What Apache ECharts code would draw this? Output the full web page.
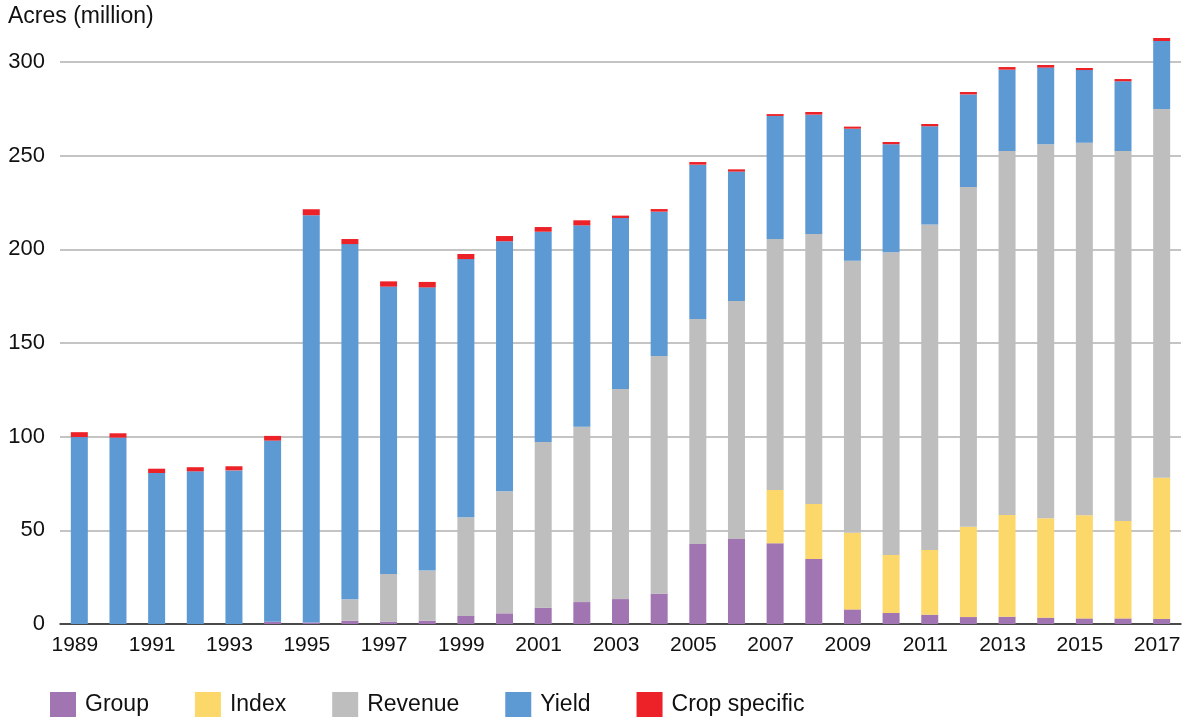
<!DOCTYPE html>
<html><head><meta charset="utf-8">
<script src="https://cdn.jsdelivr.net/npm/echarts@6/dist/echarts.min.js"></script>
<style>html,body{margin:0;padding:0;background:#fff}#c{width:1187px;height:721px}</style>
</head><body><div id="c"></div>
<script>
var years = ['1989','1990','1991','1992','1993','1994','1995','1996','1997','1998','1999','2000','2001','2002','2003','2004','2005','2006','2007','2008','2009','2010','2011','2012','2013','2014','2015','2016','2017'];
var group = [0,0,0,0,0,1.2,0.8,1.8,1.1,1.8,4.3,5.7,8.7,11.7,13.3,16.2,42.7,45.4,43.1,34.7,7.8,5.9,5.0,3.7,3.9,3.4,3.0,3.0,2.7];
var indexIns = [0,0,0,0,0,0,0,0,0,0,0,0,0,0,0,0,0,0,28.4,29.4,40.9,30.9,34.5,48.2,54.3,53.0,55.0,52.0,75.4];
var revenue = [0,0,0,0,0,0,0,11.4,25.6,26.7,52.7,65.1,88.5,93.6,112.1,126.9,120.1,127.0,134.0,144.1,145.2,161.6,173.7,181.4,194.3,199.7,198.9,197.5,196.8];
var yieldIns = [99.8,99.5,80.6,81.5,82.0,96.7,217.4,189.6,153.4,151.2,137.8,133.5,112.2,107.5,91.3,77.0,82.4,69.1,65.7,63.7,70.5,57.7,52.5,49.4,43.4,40.9,38.8,37.2,36.3];
var cropSpecific = [2.6,2.3,2.3,2.2,2.2,2.5,3.2,2.7,2.8,2.9,2.7,2.8,2.5,2.7,1.3,1.4,1.4,1.2,1.0,1.4,1.1,1.2,1.2,1.3,1.4,1.4,1.1,1.2,1.6];
var yTicks = [0,50,100,150,200,250,300];

var font = '"Liberation Sans", Arial, Helvetica, sans-serif';
var chart = echarts.init(document.getElementById('c'));
function s(name, data, color){
  return {name:name, type:'bar', stack:'total', data:data, barWidth:17, clip:false,
    itemStyle:{color:color}, emphasis:{disabled:true}};
}
chart.setOption({
  animation:false,
  textStyle:{fontFamily:font},
  grid:{left:60, right:6, top:62, bottom:97},
  graphic:[{type:'text', left:8, top:5, style:{text:'Acres (million)', font:'23px '+font, fill:'#111'}}],
  legend:{left:50, top:692, padding:0, itemWidth:26, itemHeight:25, itemGap:46, icon:'rect',
    textStyle:{fontSize:23, color:'#111', fontFamily:font, padding:[0,0,0,4]},
    data:['Group','Index','Revenue','Yield','Crop specific']},
  xAxis:{type:'category', data:years,
    axisLine:{lineStyle:{color:'#222', width:1.5}}, axisTick:{show:false},
    axisLabel:{interval:1, fontSize:21, color:'#111', margin:11, fontFamily:font, padding:[0,9,0,0]}},
  yAxis:{type:'value', min:yTicks[0], max:yTicks[yTicks.length-1], interval:50,
    axisLine:{show:false}, axisTick:{show:false},
    splitLine:{lineStyle:{color:'#B0B0B0', width:1.5}},
    axisLabel:{fontSize:22, color:'#111', margin:15, fontFamily:font}},
  series:[
    s('Group', group, '#A175B1'),
    s('Index', indexIns, '#FCD769'),
    s('Revenue', revenue, '#BEBEBE'),
    s('Yield', yieldIns, '#5D9AD4'),
    s('Crop specific', cropSpecific, '#EC2228')
  ]
});
</script></body></html>
